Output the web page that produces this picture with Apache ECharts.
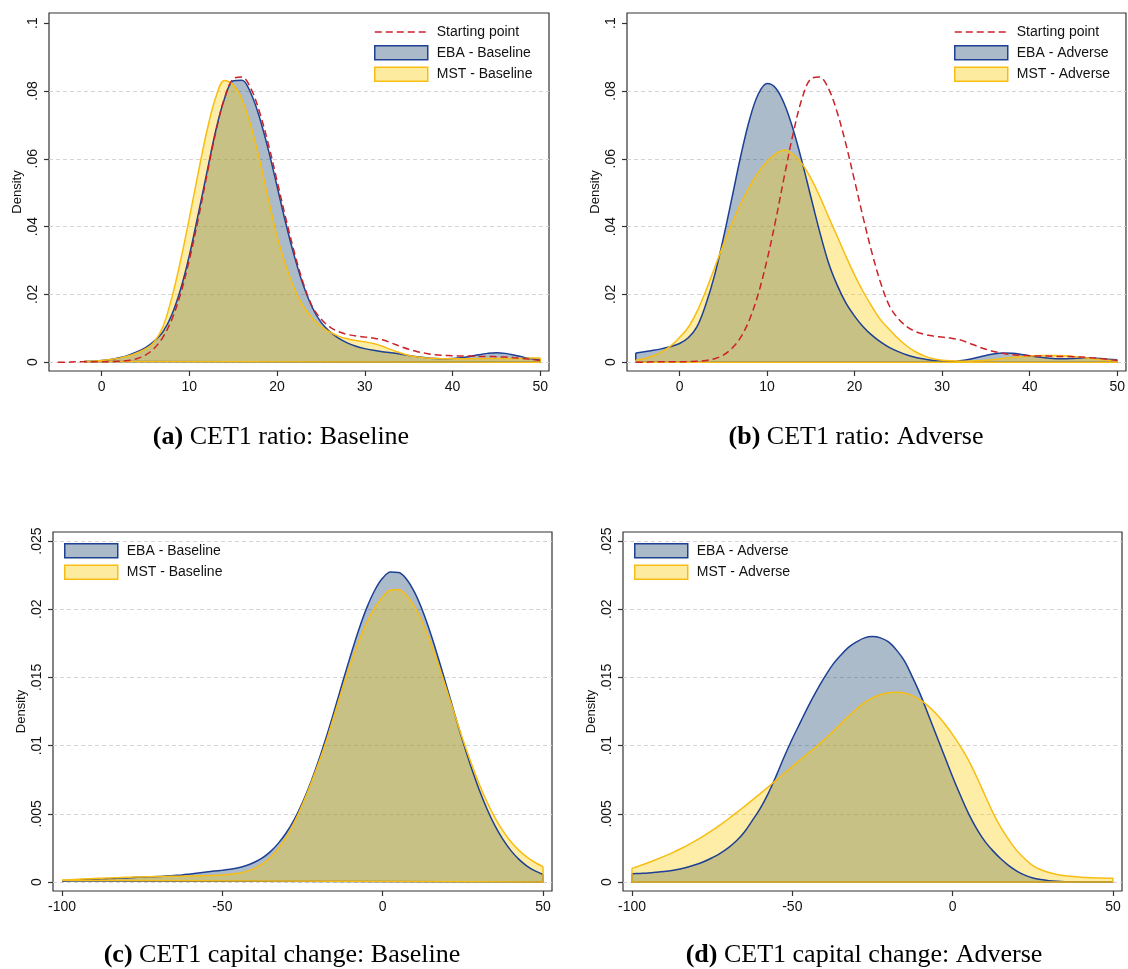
<!DOCTYPE html>
<html><head><meta charset="utf-8">
<script src="https://cdn.jsdelivr.net/npm/echarts@6/dist/echarts.min.js"></script>
<style>html,body{margin:0;padding:0;background:#fff}#c{width:1128px;height:969px}</style>
</head><body><div id="c"></div>
<script>
// ---------- DATA ----------
// CET1 ratio panels (a, b): x grid
const xRatio = [-5,-4,-3,-2,-1,0,1,2,3,4,5,6,7,8,9,10,11,12,13,14,15,16,17,18,19,20,21,22,23,24,25,26,27,28,29,30,31,32,33,34,35,36,37,38,39,40,41,42,43,44,45,46,47,48,49,50];
const startingPoint = [0,0,.0001,.0001,.0001,.0001,.0002,.0003,.0005,.0010,.0021,.0041,.0074,.0126,.0202,.0302,.0421,.0552,.0677,.0778,.0836,.0841,.0808,.0738,.0644,.0535,.0424,.0321,.0232,.0165,.0128,.0104,.0090,.0082,.0077,.0074,.0071,.0066,.0057,.0047,.0038,.0031,.0026,.0022,.0020,.0019,.0018,.0018,.0017,.0017,.0016,.0015,.0013,.0011,.0008,.0005];
const ebaBaselineRatio = [null,null,null,.0002,.0003,.0005,.0008,.0013,.0020,.0030,.0043,.0062,.0090,.0140,.0215,.0315,.0435,.0560,.0682,.0777,.0830,.0832,.0794,.0722,.0627,.0519,.0409,.0310,.0226,.0162,.0118,.0090,.0071,.0057,.0047,.0040,.0035,.0031,.0028,.0024,.0020,.0016,.0013,.0011,.0010,.0011,.0013,.0017,.0022,.0026,.0028,.0026,.0021,.0015,.0010,.0007];
const mstBaselineRatio = [null,null,null,.0002,.0003,.0005,.0008,.0012,.0018,.0027,.0039,.0060,.0105,.0190,.0300,.0425,.0557,.0682,.0780,.0831,.0818,.0775,.0698,.0597,.0482,.0371,.0285,.0215,.0165,.0130,.0106,.0089,.0077,.0069,.0064,.0060,.0055,.0047,.0037,.0028,.0020,.0015,.0012,.0011,.0010,.0010,.0010,.0010,.0011,.0011,.0011,.0011,.0011,.0011,.0012,.0012];
const ebaAdverseRatio = [.0027,.0031,.0035,.0040,.0046,.0055,.0072,.0105,.0170,.0256,.0365,.0486,.0609,.0716,.0791,.0822,.0808,.0760,.0685,.0591,.0488,.0386,.0295,.0228,.0175,.0136,.0104,.0079,.0059,.0043,.0031,.0021,.0014,.0009,.0005,.0003,.0002,.0004,.0008,.0014,.0020,.0025,.0027,.0026,.0023,.0019,.0015,.0012,.0010,.0010,.0011,.0012,.0012,.0011,.0009,.0007];
const mstAdverseRatio = [.0006,.0011,.0019,.0031,.0048,.0073,.0103,.0150,.0210,.0278,.0346,.0410,.0468,.0518,.0560,.0593,.0615,.0626,.0612,.0585,.0543,.0490,.0430,.0372,.0313,.0257,.0207,.0163,.0124,.0096,.0069,.0047,.0030,.0018,.0010,.0006,.0004,.0003,.0003,.0004,.0006,.0008,.0011,.0014,.0016,.0018,.0019,.0020,.0020,.0019,.0017,.0014,.0011,.0008,.0006,.0005];

// CET1 capital change panels (c, d): x grid
const xChange = [-100,-97.5,-95,-92.5,-90,-87.5,-85,-82.5,-80,-77.5,-75,-72.5,-70,-67.5,-65,-62.5,-60,-57.5,-55,-52.5,-50,-47.5,-45,-42.5,-40,-37.5,-35,-32.5,-30,-27.5,-25,-22.5,-20,-17.5,-15,-12.5,-10,-7.5,-5,-2.5,0,2.5,5,7.5,10,12.5,15,17.5,20,22.5,25,27.5,30,32.5,35,37.5,40,42.5,45,47.5,50];
const ebaBaselineChange = [.00010,.00012,.00015,.00018,.00020,.00023,.00025,.00028,.00030,.00033,.00035,.00038,.00040,.00044,.00048,.00052,.00059,.00066,.00073,.00080,.00086,.00093,.00104,.00121,.00145,.00177,.00223,.00285,.00363,.00462,.00583,.00726,.00889,.01069,.01263,.01464,.01661,.01846,.02008,.02137,.02228,.02272,.02269,.02218,.02121,.01985,.01818,.01630,.01430,.01227,.01031,.00848,.00682,.00537,.00413,.00312,.00230,.00166,.00117,.00081,.00055];
const mstBaselineChange = [.00012,.00016,.00020,.00023,.00026,.00028,.00030,.00032,.00034,.00036,.00037,.00039,.00040,.00041,.00042,.00043,.00044,.00045,.00046,.00048,.00051,.00056,.00064,.00078,.00100,.00133,.00180,.00245,.00330,.00440,.00570,.00715,.00870,.01040,.01230,.01420,.01600,.01760,.01900,.02010,.02090,.02140,.02143,.02099,.02015,.01897,.01752,.01584,.01406,.01224,.01044,.00878,.00723,.00588,.00472,.00375,.00295,.00232,.00182,.00143,.00112];
const ebaAdverseChange = [.00060,.00063,.00066,.00071,.00077,.00085,.00096,.00110,.00128,.00150,.00178,.00210,.00250,.00300,.00365,.00450,.00540,.00650,.00780,.00920,.01050,.01170,.01290,.01400,.01500,.01590,.01660,.01720,.01760,.01790,.01800,.01790,.01760,.01700,.01620,.01500,.01370,.01220,.01070,.00920,.00770,.00630,.00500,.00390,.00300,.00230,.00170,.00120,.00080,.00050,.00030,.00018,.00010,.00005,.00002,.00001,0,0,0,0,0];
const mstAdverseChange = [.00100,.00120,.00141,.00164,.00188,.00214,.00242,.00272,.00305,.00340,.00378,.00419,.00462,.00507,.00553,.00600,.00648,.00697,.00747,.00797,.00847,.00897,.00945,.00992,.01045,.01100,.01157,.01214,.01268,.01315,.01350,.01373,.01387,.01392,.01385,.01365,.01333,.01288,.01230,.01160,.01080,.00990,.00890,.00770,.00640,.00510,.00400,.00310,.00230,.00170,.00120,.00090,.00070,.00055,.00045,.00040,.00035,.00032,.00030,.00028,.00027];

// Tick labels
const xTicksRatio = [0,10,20,30,40,50];
const yTicksRatio = [0,.02,.04,.06,.08,.1];
const yGridRatio = [0,.02,.04,.06,.08];
const xTicksChange = [-100,-50,0,50];
const yTicksChange = [0,.005,.01,.015,.02,.025];
const yGridChange = [0,.005,.01,.015,.02,.025];

const captions = [
  ['(a)', ' CET1 ratio: Baseline'],
  ['(b)', ' CET1 ratio: Adverse'],
  ['(c)', ' CET1 capital change: Baseline'],
  ['(d)', ' CET1 capital change: Adverse']
];

// ---------- STYLE ----------
const SANS = 'Arial, "Liberation Sans", Helvetica, sans-serif';
const SERIF = '"Times New Roman", "Liberation Serif", serif';
const EBA_LINE = '#1d3f94', EBA_FILL = 'rgba(26,71,111,0.37)', EBA_SWATCH = '#abbac9';
const MST_LINE = '#f7bd12', MST_FILL = 'rgba(252,206,10,0.36)', MST_SWATCH = '#fdeca0';
const RED = '#cc2229', FRAME = '#333', TXT = '#111', GRIDC = '#d4d4d4';

function pairs(xs, ys) { const out = []; for (let i = 0; i < xs.length; i++) if (ys[i] != null) out.push([xs[i], ys[i]]); return out; }
function edges(pts) { const a = pts[0], b = pts[pts.length - 1]; return [[a[0], a[1]], [a[0], 0], [b[0], 0], [b[0], b[1]]]; }

const grids = [
  {left: 49, top: 13, width: 500, height: 358},
  {left: 627, top: 13, width: 499, height: 358},
  {left: 53, top: 532, width: 499, height: 359},
  {left: 623, top: 532, width: 499, height: 359}
].map(g => Object.assign({show: true, borderColor: FRAME, borderWidth: 1.2, backgroundColor: 'transparent', containLabel: false}, g));

function xAx(i, min, max, ticks) {
  return {type: 'value', gridIndex: i, min, max,
    axisLine: {show: false, onZero: false}, splitLine: {show: false},
    axisTick: {show: true, customValues: ticks, length: 5, lineStyle: {color: FRAME, width: 1.2}},
    axisLabel: {customValues: ticks, margin: 9, fontSize: 14, color: TXT, fontFamily: SANS, formatter: v => String(v)}};
}
function yAx(i, min, max, ticks) {
  return {type: 'value', gridIndex: i, min, max,
    name: 'Density', nameLocation: 'middle', nameGap: 25,
    nameTextStyle: {fontSize: 13, color: TXT, fontFamily: SANS},
    axisLine: {show: false, onZero: false}, splitLine: {show: false},
    axisTick: {show: true, customValues: ticks, length: 5, lineStyle: {color: FRAME, width: 1.2}},
    axisLabel: {customValues: ticks, rotate: 90, margin: 9, fontSize: 14, color: TXT, fontFamily: SANS,
      formatter: v => (v === 0 ? '0' : String(+v.toFixed(4)).replace(/^0\./, '.'))}};
}

function gridSeries(i, levels) {
  return {type: 'line', xAxisIndex: i, yAxisIndex: i, data: [], silent: true, z: 1,
    markLine: {silent: true, z: 1, precision: 6, symbol: ['none', 'none'], label: {show: false}, animation: false,
      lineStyle: {color: GRIDC, type: [4, 3], width: 1}, data: levels.map(v => ({yAxis: v}))}};
}
function areaSeries(i, name, xs, ys, line, fill) {
  const pts = pairs(xs, ys);
  return [
    {type: 'line', name, xAxisIndex: i, yAxisIndex: i, data: pts, smooth: 0.35, symbol: 'none',
      lineStyle: {color: line, width: 1.5}, itemStyle: {color: line}, areaStyle: {color: fill, origin: 0, opacity: 1}, z: 2},
    {type: 'line', xAxisIndex: i, yAxisIndex: i, data: edges(pts), smooth: false, symbol: 'none',
      lineStyle: {color: line, width: 1.5}, z: 2}
  ];
}
function dashSeries(i, xs, ys) {
  return {type: 'line', name: 'Starting point', xAxisIndex: i, yAxisIndex: i, data: pairs(xs, ys), smooth: 0.35, symbol: 'none',
    lineStyle: {color: RED, width: 1.5, type: [7, 4]}, itemStyle: {color: RED}, z: 3};
}

const series = [
  gridSeries(0, yGridRatio),
  ...areaSeries(0, 'EBA - Baseline', xRatio, ebaBaselineRatio, EBA_LINE, EBA_FILL),
  ...areaSeries(0, 'MST - Baseline', xRatio, mstBaselineRatio, MST_LINE, MST_FILL),
  dashSeries(0, xRatio, startingPoint),
  gridSeries(1, yGridRatio),
  ...areaSeries(1, 'EBA - Adverse', xRatio, ebaAdverseRatio, EBA_LINE, EBA_FILL),
  ...areaSeries(1, 'MST - Adverse', xRatio, mstAdverseRatio, MST_LINE, MST_FILL),
  dashSeries(1, xRatio, startingPoint),
  gridSeries(2, yGridChange),
  ...areaSeries(2, 'EBA - Baseline', xChange, ebaBaselineChange, EBA_LINE, EBA_FILL),
  ...areaSeries(2, 'MST - Baseline', xChange, mstBaselineChange, MST_LINE, MST_FILL),
  gridSeries(3, yGridChange),
  ...areaSeries(3, 'EBA - Adverse', xChange, ebaAdverseChange, EBA_LINE, EBA_FILL),
  ...areaSeries(3, 'MST - Adverse', xChange, mstAdverseChange, MST_LINE, MST_FILL)
];

const legendBase = {orient: 'vertical', itemWidth: 53, itemHeight: 14, itemGap: 6, padding: 0, selectedMode: false,
  textStyle: {fontSize: 14, color: TXT, fontFamily: SANS, padding: [0, 0, 0, 4]}};
const ebaItem = n => ({name: n, icon: 'rect', itemStyle: {color: EBA_SWATCH, borderColor: EBA_LINE, borderWidth: 1.5}});
const mstItem = n => ({name: n, icon: 'rect', itemStyle: {color: MST_SWATCH, borderColor: MST_LINE, borderWidth: 1.5}});
const startItem = {name: 'Starting point', itemStyle: {opacity: 0}, lineStyle: {color: RED, width: 1.5, type: [7, 4]}};

const legends = [
  Object.assign({left: 374, top: 25, data: [startItem, ebaItem('EBA - Baseline'), mstItem('MST - Baseline')]}, legendBase),
  Object.assign({left: 954, top: 25, data: [startItem, ebaItem('EBA - Adverse'), mstItem('MST - Adverse')]}, legendBase),
  Object.assign({left: 64, top: 543, data: [ebaItem('EBA - Baseline'), mstItem('MST - Baseline')]}, legendBase),
  Object.assign({left: 634, top: 543, data: [ebaItem('EBA - Adverse'), mstItem('MST - Adverse')]}, legendBase)
];

const capPos = [[281, 437], [856, 437], [282, 955], [864, 955]];
const graphic = captions.map((c, i) => ({type: 'text', x: capPos[i][0], y: capPos[i][1], silent: true,
  style: {text: '{b|' + c[0] + '}' + c[1], fontSize: 26, fontFamily: SERIF, fill: '#000', align: 'center', verticalAlign: 'middle',
    rich: {b: {fontWeight: 'bold', fontSize: 26, fontFamily: SERIF, fill: '#000'}}}}));

const chart = echarts.init(document.getElementById('c'));
chart.setOption({
  animation: false,
  backgroundColor: '#fff',
  grid: grids,
  xAxis: [xAx(0, -6, 51, xTicksRatio), xAx(1, -6, 51, xTicksRatio), xAx(2, -102.8, 52.8, xTicksChange), xAx(3, -102.8, 52.8, xTicksChange)],
  yAxis: [yAx(0, -0.0026, 0.103, yTicksRatio), yAx(1, -0.0026, 0.103, yTicksRatio), yAx(2, -0.00066, 0.02566, yTicksChange), yAx(3, -0.00066, 0.02566, yTicksChange)],
  legend: legends,
  series,
  graphic
});
</script></body></html>
